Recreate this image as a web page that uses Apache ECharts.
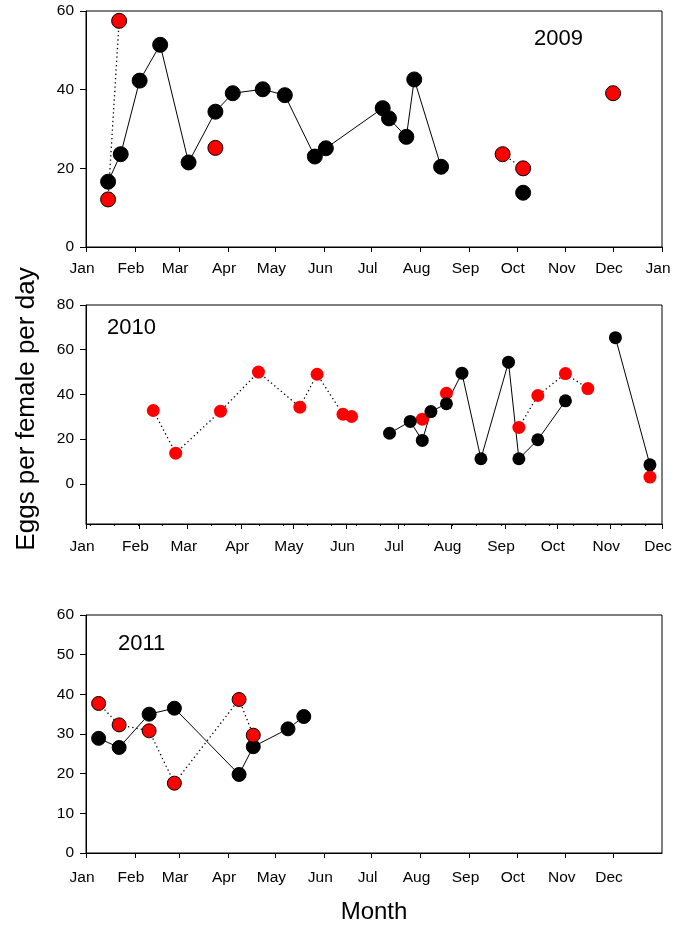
<!DOCTYPE html>
<html>
<head>
<meta charset="utf-8">
<script src="https://cdn.jsdelivr.net/npm/echarts@6/dist/echarts.min.js"></script>
<style>
html,body{margin:0;padding:0;background:#fff;}
#c{width:675px;height:927px;}
</style>
</head>
<body>
<div id="c"></div>
<script>
// ---------- DATA ----------
const MONTHS = ['Jan','Feb','Mar','Apr','May','Jun','Jul','Aug','Sep','Oct','Nov','Dec'];
const PANEL_YEARS = [2009, 2010, 2011];

// 2009 (null value = gap in line)
const black2009Dates = ['01-15','01-23','02-04','02-17','03-07','03-24','04-04','04-23','05-07','05-26','06-02','07-08','07-12','07-23','07-28','08-14','09-10','10-05'];
const black2009Vals  = [16.6, 23.6, 42.3, 51.4, 21.5, 34.4, 39.1, 40.1, 38.6, 23.0, 25.1, 35.3, 32.7, 28.0, 42.6, 20.4, null, 13.8];
const red2009Dates   = ['01-15','01-22','02-20','03-24','05-01','09-22','10-05','11-01','12-01'];
const red2009Vals    = [12.1, 57.5, null, 25.2, null, 23.6, 20.0, null, 39.1];

// 2010
const black2010Dates = ['06-26','07-08','07-15','07-20','07-29','08-07','08-18','09-03','09-09','09-20','10-06','10-20','11-04','11-24'];
const black2010Vals  = [22.6, 27.9, 19.4, 32.3, 35.8, 49.5, 11.2, 54.4, 11.2, 19.7, 37.1, null, 65.4, 8.5];
const red2010Dates   = ['02-09','02-22','03-20','04-11','05-05','05-15','05-30','06-04','06-20','07-15','07-22','07-29','08-20','09-09','09-20','10-06','10-19','11-10','11-24'];
const red2010Vals    = [32.8, 13.7, 32.5, 50.0, 34.3, 49.0, 31.1, 30.1, null, 28.9, null, 40.5, null, 25.2, 39.5, 49.3, 42.6, null, 3.0];

// 2011
const black2011Dates = ['01-09','01-22','02-10','02-26','04-08','04-17','05-09','05-19'];
const black2011Vals  = [28.9, 26.6, 35.0, 36.5, 19.8, 26.8, 31.3, 34.4];
const red2011Dates   = ['01-09','01-22','02-10','02-26','04-08','04-17'];
const red2011Vals    = [37.7, 32.3, 30.8, 17.6, 38.7, 29.7];

const yTicks2009 = [0, 20, 40, 60];
const yTicks2010 = [0, 20, 40, 60, 80];
const yTicks2011 = [0, 10, 20, 30, 40, 50, 60];

// ---------- HELPERS ----------
const DAY = 86400000;
// x values are days since Jan 1 of the panel's year
function dayOf(year, md) {
  const p = md.split('-');
  return (Date.UTC(year, +p[0] - 1, +p[1]) - Date.UTC(year, 0, 1)) / DAY;
}
function pairs(year, dates, vals) {
  return dates.map((d, i) => [dayOf(year, d), vals[i]]);
}
function monthStarts(year, count) {
  const out = [];
  for (let i = 0; i < count; i++) out.push((Date.UTC(year, i, 1) - Date.UTC(year, 0, 1)) / DAY);
  return out;
}
function monthName(year, v) {
  return MONTHS[new Date(Date.UTC(year, 0, 1) + Math.round(v) * DAY).getUTCMonth()];
}
const FONT = 'Liberation Sans, Arial, Helvetica, sans-serif';

const grids = [
  {left: 86, right: 13, top: 11, height: 236},
  {left: 86, right: 13, top: 305, height: 219},
  {left: 86, right: 13, top: 615, height: 238}
].map(g => Object.assign(g, {show: true, borderColor: '#000', borderWidth: 1, containLabel: false, outerBoundsMode: 'none'}));

function xAxisFor(gi, year, maxDay, tickVals, margin) {
  return {
    type: 'value', gridIndex: gi, min: 0, max: maxDay, position: 'bottom',
    axisLine: {show: true, onZero: false, lineStyle: {color: '#000', width: 1}},
    axisTick: {show: true, length: 5, lineStyle: {color: '#000', width: 1}, customValues: tickVals},
    axisLabel: {
      show: true, color: '#000', fontSize: 15.5, fontFamily: FONT, margin: margin,
      padding: [0, 8, 0, 0],
      customValues: tickVals,
      formatter: v => monthName(year, v),
      hideOverlap: false, showMinLabel: true, showMaxLabel: true
    },
    splitLine: {show: false}
  };
}

const x1Ticks = monthStarts(2009, 13);
const x2Ticks = monthStarts(2010, 12);
const x3Ticks = monthStarts(2011, 12);

const minor2010 = [];
for (let k = 0; k < 24; k++) minor2010.push(2.5 + k * 14);

function yAxisFor(gi, min, max, ticks) {
  return {
    type: 'value', gridIndex: gi, min: min, max: max, position: 'left',
    axisLine: {show: true, onZero: false, lineStyle: {color: '#000', width: 1}},
    axisTick: {show: true, length: 6, lineStyle: {color: '#000', width: 1}, customValues: ticks},
    axisLabel: {show: true, color: '#000', fontSize: 15.5, fontFamily: FONT, margin: 12, customValues: ticks,
                showMinLabel: true, showMaxLabel: true},
    splitLine: {show: false}
  };
}

function lineSeries(xi, yi, data, color, dashed, size, border) {
  return {
    type: 'line', xAxisIndex: xi, yAxisIndex: yi, data: data,
    symbol: 'circle', symbolSize: size, showSymbol: true, showAllSymbol: true,
    connectNulls: false, animation: false, silent: true,
    lineStyle: {color: '#000', width: dashed ? 1.3 : 1, type: dashed ? [1.3, 3] : 'solid'},
    itemStyle: {color: color, borderColor: border ? '#000' : color, borderWidth: border ? 1 : 0, opacity: 1},
    emphasis: {disabled: true}
  };
}

const option = {
  animation: false,
  backgroundColor: '#fff',
  grid: grids,
  xAxis: [
    xAxisFor(0, 2009, 365, x1Ticks, 14),
    xAxisFor(1, 2010, 334, x2Ticks, 15),
    xAxisFor(2, 2011, 365, x3Ticks, 17),
    {
      type: 'value', gridIndex: 1, min: 0, max: 334, position: 'bottom',
      axisLine: {show: false, onZero: false},
      axisTick: {show: true, length: 2, lineStyle: {color: '#000', width: 1}, customValues: minor2010},
      axisLabel: {show: false}, splitLine: {show: false}
    }
  ],
  yAxis: [
    yAxisFor(0, 0, 60, yTicks2009),
    yAxisFor(1, -18, 80, yTicks2010),
    yAxisFor(2, 0, 60, yTicks2011)
  ],
  series: [
    lineSeries(0, 0, pairs(2009, red2009Dates, red2009Vals), '#ff0000', true, 15, true),
    lineSeries(0, 0, pairs(2009, black2009Dates, black2009Vals), '#000', false, 15, true),
    lineSeries(1, 1, pairs(2010, red2010Dates, red2010Vals), '#ff0000', true, 13, false),
    lineSeries(1, 1, pairs(2010, black2010Dates, black2010Vals), '#000', false, 13, false),
    lineSeries(2, 2, pairs(2011, black2011Dates, black2011Vals), '#000', false, 14, true),
    lineSeries(2, 2, pairs(2011, red2011Dates, red2011Vals), '#ff0000', true, 14, true)
  ],
  graphic: [
    {type: 'text', left: 534, top: 28, style: {text: String(PANEL_YEARS[0]), font: '22px ' + FONT, fill: '#000'}},
    {type: 'text', left: 107, top: 317, style: {text: String(PANEL_YEARS[1]), font: '22px ' + FONT, fill: '#000'}},
    {type: 'text', left: 118, top: 633, style: {text: String(PANEL_YEARS[2]), font: '22px ' + FONT, fill: '#000'}},
    {type: 'text', x: 27, y: 409, rotation: Math.PI / 2,
     style: {text: 'Eggs per female per day', font: '26px ' + FONT, fill: '#000', align: 'center', verticalAlign: 'middle'}},
    {type: 'text', x: 374, y: 912,
     style: {text: 'Month', font: '24px ' + FONT, fill: '#000', align: 'center', verticalAlign: 'middle'}}
  ]
};

const chart = echarts.init(document.getElementById('c'), null, {renderer: 'canvas'});
chart.setOption(option);
</script>
</body>
</html>
